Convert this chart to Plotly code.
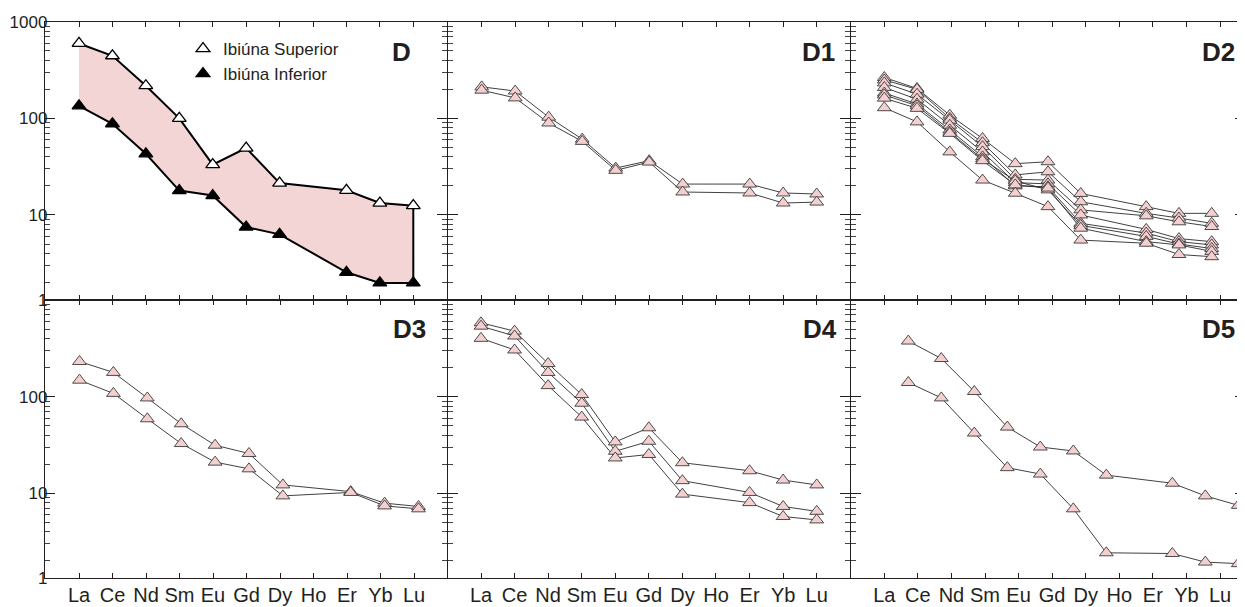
import plotly.graph_objects as go

# ---------------- data ----------------
ELEMENTS = ["La", "Ce", "Nd", "Sm", "Eu", "Gd", "Dy", "Ho", "Er", "Yb", "Lu"]
REE = ["La", "Ce", "Nd", "Sm", "Eu", "Gd", "Dy", "Er", "Yb", "Lu"]  # Ho not analysed

# Panel D : envelope of the two units
D_superior = [597, 445, 218, 100, 33.2, 49.3, 21.4, 18.0, 13.3, 12.5]
D_inferior = [135, 88, 43, 17.9, 15.9, 7.5, 6.3, 2.55, 1.98, 1.98]

# Panel D1
D1_a = [212, 192, 103, 61, 30.6, 36.5, 20.9, 20.9, 16.9, 16.5]
D1_b = [196, 163, 89.6, 57.8, 29.0, 35.3, 17.3, 16.9, 13.3, 13.6]

# Panel D2
D2_1 = [265, 204, 108, 62, 34, 35.6, 16.7, 12.2, 10.4, 10.4]
D2_2 = [250, 200, 100, 56, 26, 28, 13.7, 10.4, 9.3, 8.2]
D2_3 = [233, 178, 96, 51, 23.4, 23, 11.3, 9.8, 8.5, 7.6]
D2_4 = [209, 158, 85, 45, 21.6, 21, 10.0, 7.1, 5.7, 5.3]
D2_5 = [183, 141, 76, 40, 20, 19.6, 8.2, 6.5, 5.3, 4.9]
D2_6 = [175, 135, 72, 38, 22.5, 18.2, 7.8, 6.0, 5.0, 4.5]
D2_7 = [162, 127, 70, 36.5, 20.5, 19.0, 7.3, 5.3, 4.9, 4.2]
D2_8 = [129, 92, 45, 23, 16.8, 12.2, 5.5, 5.1, 3.9, 3.7]

# Panel D3
D3_a = [231, 178, 96.9, 52.4, 31.4, 25.8, 12.2, 10.4, 7.9, 7.3]
D3_b = [148, 108, 59, 32.7, 21.0, 17.9, 9.4, 10.2, 7.4, 6.9]

# Panel D4
D4_a = [581, 476, 220, 105, 34, 47.6, 20.7, 17.1, 13.7, 12.2]
D4_b = [536, 424, 178, 85.5, 27.2, 34.5, 13.5, 10.2, 7.3, 6.5]
D4_c = [401, 304, 130, 61.4, 23.2, 25.2, 9.8, 8.0, 5.75, 5.3]

# Panel D5
D5_a = [376, 248, 113, 48.4, 30.1, 27.4, 15.4, 12.7, 9.4, 7.5]
D5_b = [140, 97, 42, 18.4, 15.8, 6.9, 2.42, 2.38, 1.94, 1.87]

PANEL_SERIES = {
    1: [D1_a, D1_b],
    2: [D2_1, D2_2, D2_3, D2_4, D2_5, D2_6, D2_7, D2_8],
    3: [D3_a, D3_b],
    4: [D4_a, D4_b, D4_c],
    5: [D5_a, D5_b],
}
PANEL_LABELS = ["D", "D1", "D2", "D3", "D4", "D5"]
Y_TICK_TEXT_TOP = ["1", "10", "100", "1000"]
Y_TICK_TEXT_BOTTOM = ["1", "10", "100", ""]

# category index of every analysed element (position on the REE axis)
XPOS = [ELEMENTS.index(e) for e in REE]

# ---------------- layout geometry (reference pixels) ----------------
VIEW_W, VIEW_H = 1245, 607
PAGE_PAD = 8                      # default page margin around the plot div
W, H = VIEW_W - PAGE_PAD, VIEW_H - PAGE_PAD
COLS = [(45, 447), (448, 850), (850.5, 1245)]
ROWS = [(21.8, 300), (300, 578.3)]
# frame ticks: pixel of first category and pixel step, per panel
FRAME = [(79, 33.43), (481.7, 33.5), (884.3, 33.57),
         (79, 33.5), (481.0, 33.57), (884.3, 33.57)]
# where the source figure actually places the data of each panel
DATA = [(79, 33.43), (481.7, 33.5), (884.3, 32.74),
        (79.5, 33.9), (481.0, 33.57), (908.3, 33.0)]
LABEL_POS = [(413, 52), (837, 52), (1237, 52), (428, 329), (839, 329), (1237, 329)]
LEGEND_POS = (183, 31)


def fx(px):
    return (px - PAGE_PAD) / W


def fy(py):
    return 1 - (py - PAGE_PAD) / H


YLOW = 0.12
YRANGE = [YLOW, 3.0]
MINOR_VALS = [m * d for d in (1, 10, 100) for m in range(2, 10)]

INK = "#231f20"
PINK = "#f4cfd0"
FILLPINK = "#f3d5d6"
FONT = "Liberation Sans, Arial, sans-serif"

fig = go.Figure()


def ax_name(prefix, n):
    return prefix if n == 1 else f"{prefix}{n}"


layout = {}
for k in range(6):
    r, c = divmod(k, 3)
    n = k + 1
    x0, x1 = COLS[c]
    ytop, ybot = ROWS[r]
    fla, fstep = FRAME[k]
    dla, dstep = DATA[k]
    tickpos = [(fla + i * fstep - dla) / dstep for i in range(len(ELEMENTS))]
    layout[ax_name("xaxis", n)] = dict(
        domain=[max(0, fx(x0)), min(1, fx(x1))],
        range=[(x0 - dla) / dstep, (x1 - dla) / dstep],
        type="linear", anchor=ax_name("y", n), automargin=False,
        tickmode="array", tickvals=tickpos, ticktext=ELEMENTS,
        showline=True, linecolor=INK, linewidth=1.4, mirror="ticks",
        ticks="inside", ticklen=5, tickwidth=1, tickcolor=INK,
        showgrid=False, zeroline=False, showticklabels=(r == 1),
        ticklabelstandoff=-2,
        tickfont=dict(family=FONT, size=20, color=INK),
    )
    layout[ax_name("yaxis", n)] = dict(
        domain=[max(0, fy(ybot)), min(1, fy(ytop))],
        type="log", range=YRANGE, automargin=False,
        anchor=ax_name("x", n),
        tickmode="array",
        tickvals=[10 ** YLOW, 10, 100, 1000],
        ticktext=Y_TICK_TEXT_TOP if r == 0 else Y_TICK_TEXT_BOTTOM,
        showline=True, linecolor=INK, linewidth=1.4, mirror="ticks",
        ticks="inside", ticklen=10, tickwidth=1.2, tickcolor=INK,
        minor=dict(tickmode="array", tickvals=MINOR_VALS, ticks="inside",
                   ticklen=5, tickwidth=1, tickcolor="#444444"),
        showgrid=False, zeroline=False, showticklabels=(c == 0),
        ticklabelstandoff=-7,
        tickfont=dict(family=FONT, size=17, color=INK),
    )

# ---------------- panel D ----------------
fig.add_trace(go.Scatter(
    x=XPOS + XPOS[::-1], y=D_superior + D_inferior[::-1],
    mode="lines", fill="toself", fillcolor=FILLPINK,
    line=dict(color="#000000", width=2), showlegend=False,
    hoverinfo="skip", xaxis="x", yaxis="y",
))
fig.add_trace(go.Scatter(
    x=XPOS, y=D_superior, mode="markers", name="Ibiúna Superior",
    marker=dict(symbol="triangle-up", size=12, color="white",
                line=dict(color="#000000", width=1.3)),
    xaxis="x", yaxis="y", cliponaxis=False,
))
fig.add_trace(go.Scatter(
    x=XPOS, y=D_inferior, mode="markers", name="Ibiúna Inferior",
    marker=dict(symbol="triangle-up", size=12, color="#000000",
                line=dict(color="#000000", width=1.3)),
    xaxis="x", yaxis="y", cliponaxis=False,
))

# ---------------- panels D1..D5 ----------------
for k, series in PANEL_SERIES.items():
    xa = ax_name("x", k + 1)
    ya = ax_name("y", k + 1)
    for s in series:
        fig.add_trace(go.Scatter(
            x=XPOS, y=s, mode="lines", line=dict(color="#2b2b2b", width=0.9),
            showlegend=False, xaxis=xa, yaxis=ya, hoverinfo="skip",
        ))
    for s in series:
        fig.add_trace(go.Scatter(
            x=XPOS, y=s, mode="markers",
            marker=dict(symbol="triangle-up", size=12, color=PINK,
                        line=dict(color="#3a3a3a", width=0.9)),
            showlegend=False, xaxis=xa, yaxis=ya, cliponaxis=False,
        ))

annotations = []
for label, (px, py) in zip(PANEL_LABELS, LABEL_POS):
    annotations.append(dict(
        text=label, x=fx(px), y=fy(py), xref="paper", yref="paper",
        xanchor="right", yanchor="middle", showarrow=False,
        font=dict(family=FONT, size=26, color=INK, weight="bold"),
    ))

fig.update_layout(
    width=W, height=H, autosize=False,
    margin=dict(l=0, r=0, t=0, b=0, pad=0, autoexpand=False),
    paper_bgcolor="white", plot_bgcolor="rgba(0,0,0,0)",
    font=dict(family=FONT, color=INK),
    annotations=annotations,
    showlegend=True,
    legend=dict(x=fx(LEGEND_POS[0]), y=fy(LEGEND_POS[1]), xanchor="left", yanchor="top",
                bgcolor="rgba(0,0,0,0)", font=dict(family=FONT, size=17, color=INK),
                tracegroupgap=0, itemwidth=30),
    **layout,
)

fig.write_html("out.html")
